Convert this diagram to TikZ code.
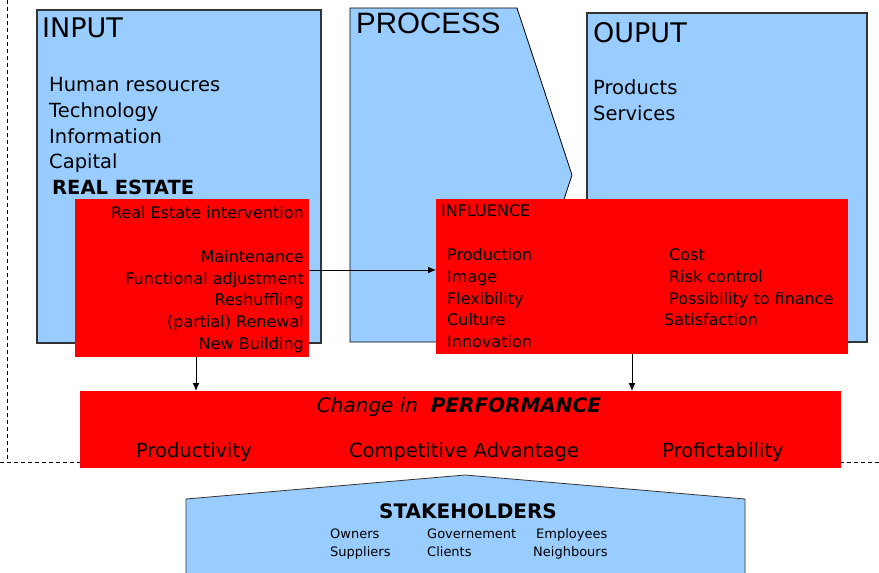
\documentclass[tikz,border=0pt]{standalone}
\usepackage{fontspec}
\setmainfont{DejaVu Sans}
\newfontfamily\arialfont{Liberation Sans}
\usetikzlibrary{arrows.meta}
\definecolor{boxblue}{HTML}{99CCFF}
\definecolor{boxred}{HTML}{FF0000}
\newcommand{\fsz}[2]{\fontsize{#1}{#2}\selectfont}

\begin{document}
\begin{tikzpicture}[x=1pt,y=-1pt,
  bluebox/.style={fill=boxblue,draw=black!80,line width=1.2pt},
  redbox/.style={rectangle,fill=boxred,inner sep=0pt,outer sep=0pt,anchor=north west},
  lbl/.style={inner sep=0pt,anchor=base west},
  rlbl/.style={inner sep=0pt,anchor=base east},
  clbl/.style={inner sep=0pt,anchor=base},
  big/.style={font=\fsz{27}{30}},
  mid/.style={font=\fsz{19.5}{24}},
  small/.style={font=\fsz{16}{20}},
  tiny/.style={font=\fsz{13}{16}},
  arr/.style={-{Latex[length=8pt,width=7pt]},line width=1pt},
  dashline/.style={draw=black,line width=1pt,dash pattern=on 4pt off 3pt}]
  \useasboundingbox (0,0) rectangle (879,573);

  %dashed border
  \draw[dashline] (7,0) -- (7,462);
  \draw[dashline] (0,462) -- (879,462);

  %input
  \draw[bluebox] (37,10) rectangle (321,343);
  \node[lbl,big] (intitle) at (42,37) {INPUT};
  \node[lbl,mid] (in1) at (49,91) {Human resoucres};
  \node[lbl,mid] (in2) at (49,117) {Technology};
  \node[lbl,mid] (in3) at (49,143) {Information};
  \node[lbl,mid] (in4) at (49,168) {Capital};
  \node[lbl,mid] (in5) at (52,194) {\bfseries REAL ESTATE};

  %process
  \draw[bluebox,draw=black,line width=0.8pt] (350,8) -- (517,8) -- (572,175) -- (517,342) -- (350,342) -- cycle;
  \node[lbl,font=\arialfont\fsz{29.5}{32}] (proctitle) at (356,33.5) {PROCESS};

  %output
  \draw[bluebox] (587,13) rectangle (867,342);
  \node[lbl,big] (outtitle) at (593,42) {OUPUT};
  \node[lbl,mid] (out1) at (593,94) {Products};
  \node[lbl,mid] (out2) at (593,120) {Services};

  %real estate intervention
  \node[redbox,minimum width=234pt,minimum height=158pt] (rei) at (75,199) {};
  \node[rlbl,small] (rei0) at (304,218) {Real Estate intervention};
  \node[rlbl,small] (rei1) at (304,262) {Maintenance};
  \node[rlbl,small] (rei2) at (304,284) {Functional adjustment};
  \node[rlbl,small] (rei3) at (304,305.5) {Reshuffling};
  \node[rlbl,small] (rei4) at (304,327) {(partial) Renewal};
  \node[rlbl,small] (rei5) at (304,349) {New Building};

  %influence
  \node[redbox,minimum width=412pt,minimum height=155pt] (infl) at (436,199) {};
  \node[lbl,small] (infl0) at (441,216.7) {INFLUENCE};
  \node[lbl,small] (infl1) at (447,260.7) {Production};
  \node[lbl,small] (infl2) at (447,282.7) {Image};
  \node[lbl,small] (infl3) at (447,304.7) {Flexibility};
  \node[lbl,small] (infl4) at (447,325.7) {Culture};
  \node[lbl,small] (infl5) at (447,347.3) {Innovation};
  \node[lbl,small] (infl6) at (669,260.7) {Cost};
  \node[lbl,small] (infl7) at (669,282.7) {Risk control};
  \node[lbl,small] (infl8) at (669,304.7) {Possibility to finance};
  \node[lbl,small] (infl9) at (664,325.7) {Satisfaction};

  %performance
  \node[redbox,minimum width=761pt,minimum height=77pt] (perf) at (80,391) {};
  \node[clbl,font=\fsz{20}{24}] (perftitle) at (459,412.5) {\itshape Change in \ \textbf{PERFORMANCE}};
  \node[clbl,mid] (perf1) at (194,457) {Productivity};
  \node[clbl,mid] (perf2) at (464,457) {Competitive Advantage};
  \node[clbl,mid] (perf3) at (723,457) {Profictability};

  %arrows
  \draw[arr] ([yshift=8pt]rei.east) -- ([yshift=8pt]rei.east -| infl.west);
  \draw[arr] ([xshift=4pt]rei.south) -- ([xshift=4pt]rei.south |- perf.north);
  \draw[arr] ([xshift=-10pt]infl.south) -- ([xshift=-10pt]infl.south |- perf.north);

  %stakeholders
  \filldraw[bluebox,line width=0.8pt] (186,573) -- (186,499) -- (465,475) -- (745,499) -- (745,573);
  \node[clbl,font=\bfseries\fsz{20}{22}] (stake) at (468,518) {STAKEHOLDERS};
  \node[lbl,tiny] (st1) at (330,538) {Owners};
  \node[lbl,tiny] (st2) at (427,538) {Governement};
  \node[lbl,tiny] (st3) at (536,538) {Employees};
  \node[lbl,tiny] (st4) at (330,556) {Suppliers};
  \node[lbl,tiny] (st5) at (427,556) {Clients};
  \node[lbl,tiny] (st6) at (533,556) {Neighbours};
\end{tikzpicture}
\end{document}
